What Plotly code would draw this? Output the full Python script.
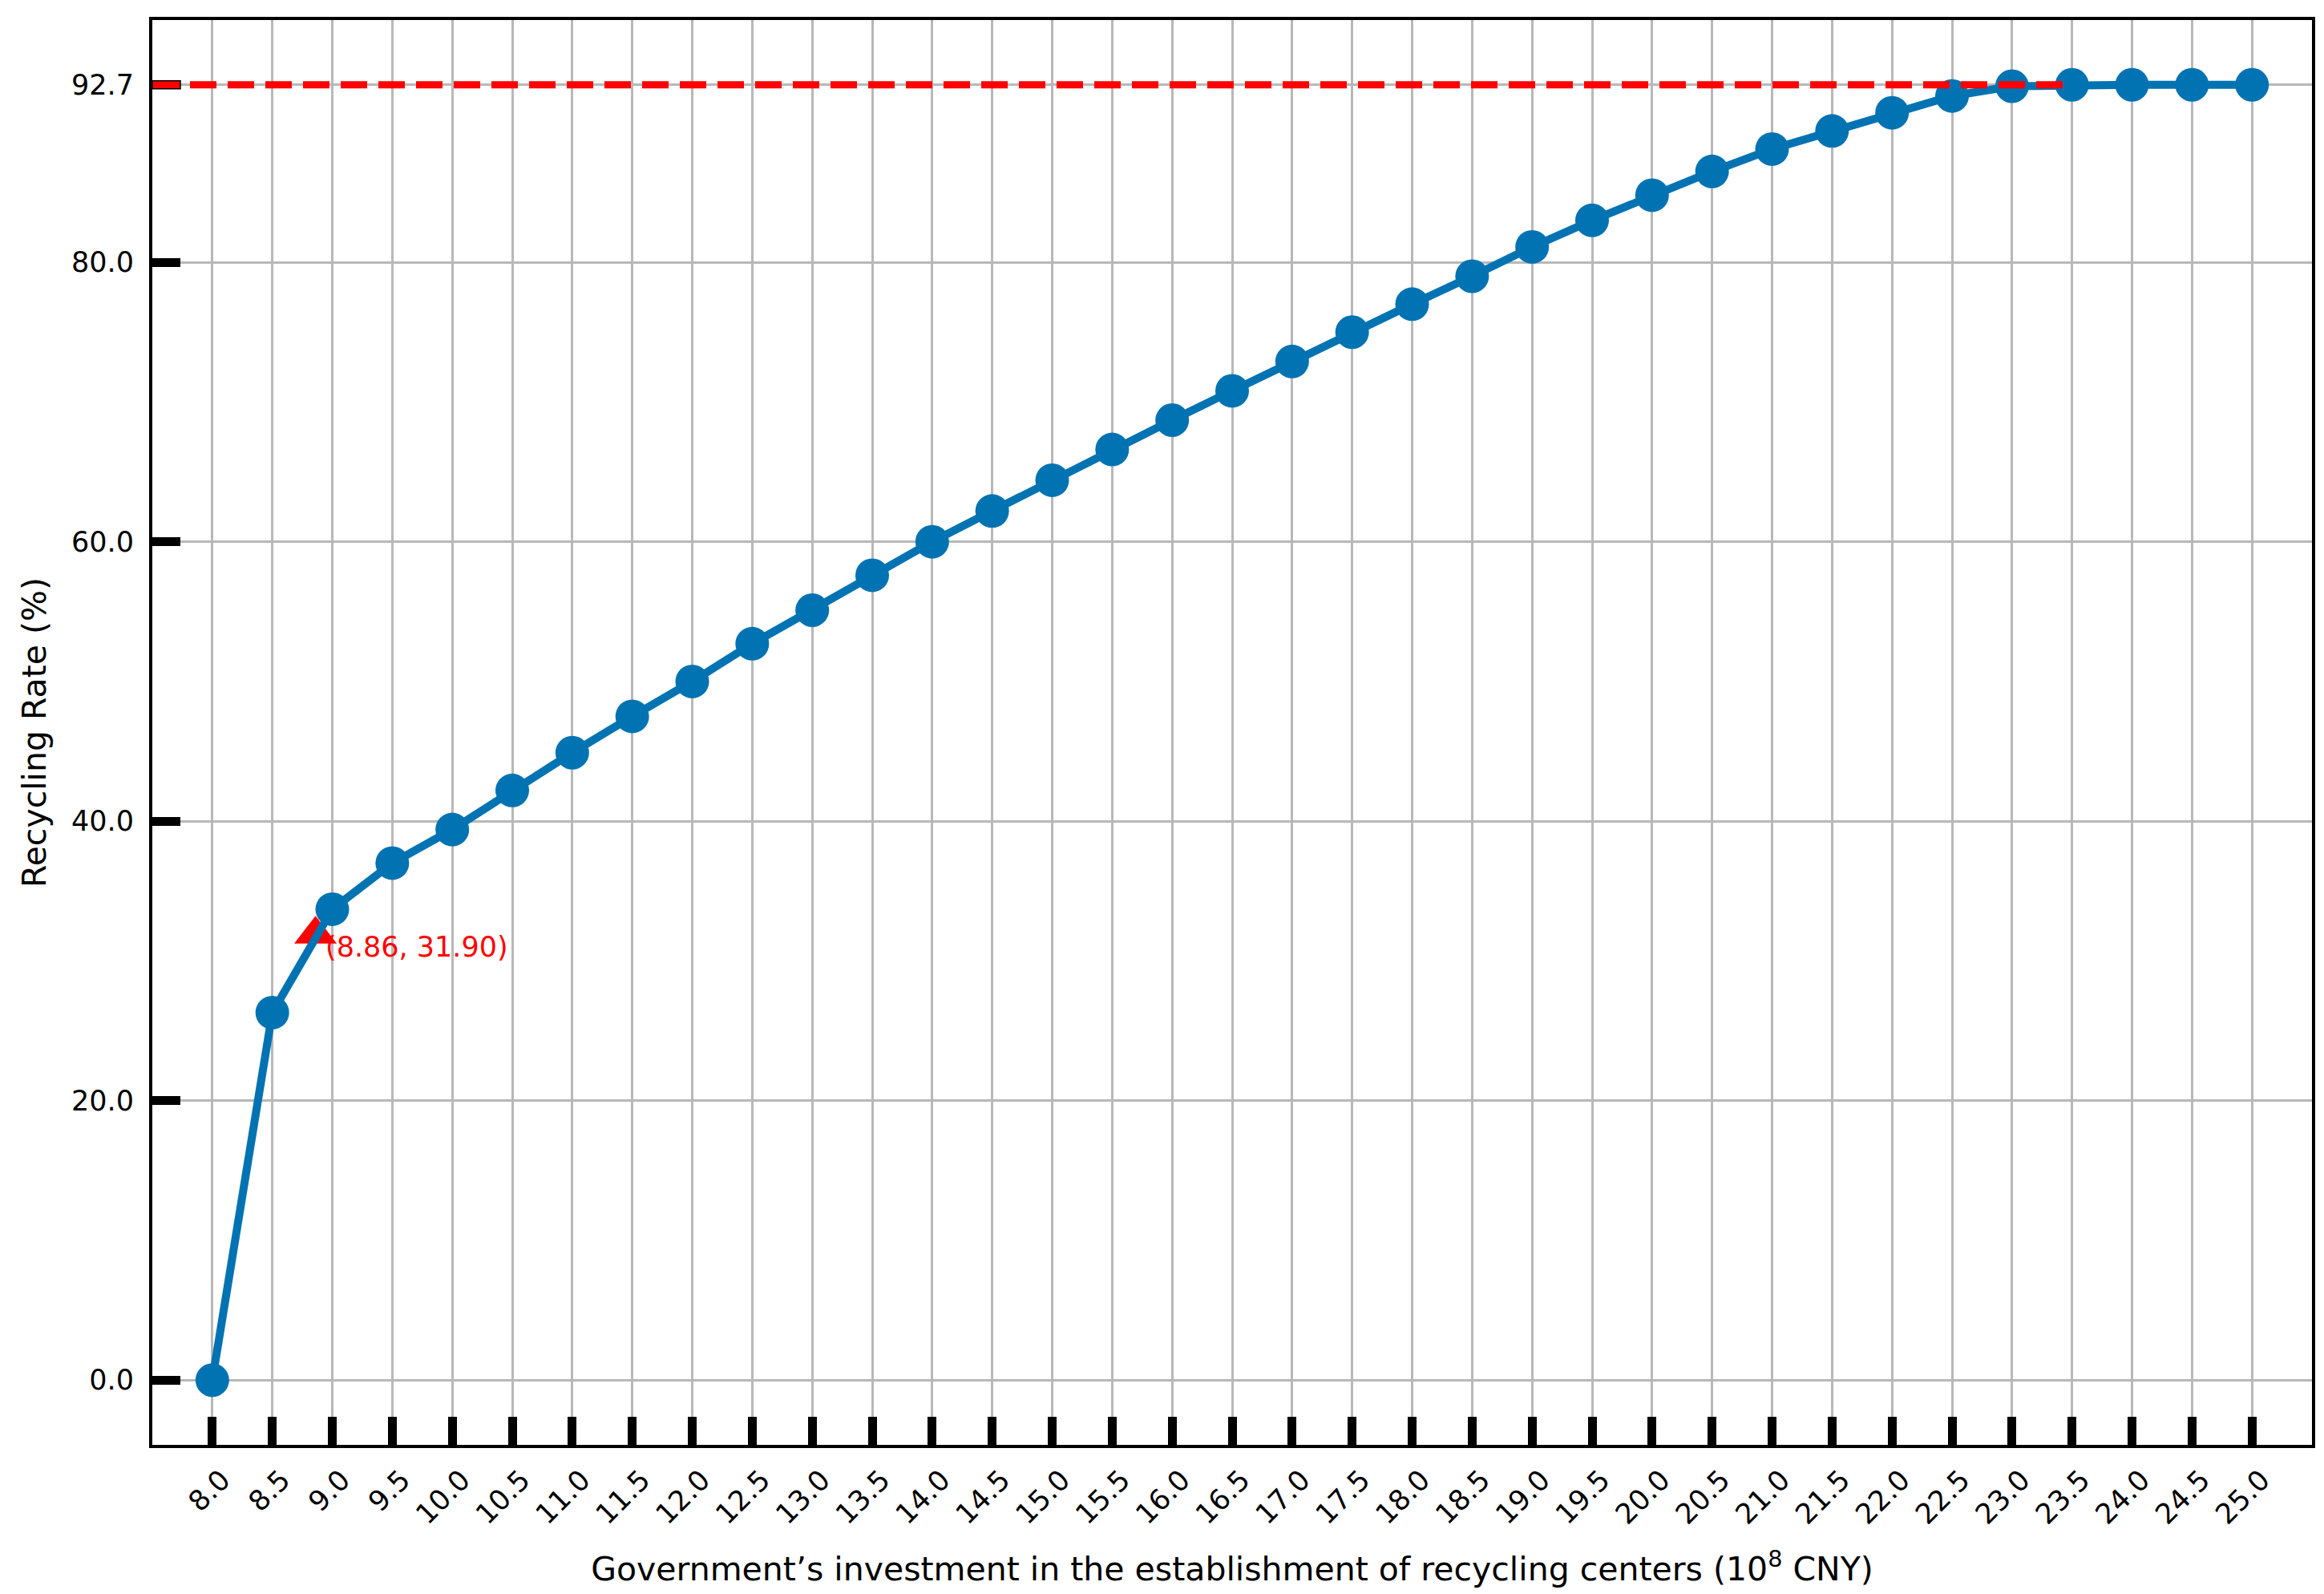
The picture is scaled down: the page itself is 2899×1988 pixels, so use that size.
import plotly.graph_objects as go

# ---- data ----
investment = [8.0, 8.5, 9.0, 9.5, 10.0, 10.5, 11.0, 11.5, 12.0, 12.5, 13.0, 13.5,
              14.0, 14.5, 15.0, 15.5, 16.0, 16.5, 17.0, 17.5, 18.0, 18.5, 19.0,
              19.5, 20.0, 20.5, 21.0, 21.5, 22.0, 22.5, 23.0, 23.5, 24.0, 24.5, 25.0]
recycling_rate = [0.0, 26.3, 33.7, 37.0, 39.4, 42.2, 44.9, 47.5, 50.0, 52.7, 55.1, 57.6,
                  60.0, 62.2, 64.4, 66.6, 68.7, 70.8, 72.9, 75.0, 77.0, 79.0, 81.1,
                  83.0, 84.8, 86.5, 88.1, 89.4, 90.7, 91.9, 92.6, 92.7, 92.7, 92.7, 92.7]
threshold_point_x = [8.86]
threshold_point_y = [31.90]
threshold_label = "(8.86, 31.90)"
max_rate = 92.7
max_rate_x_end = 23.5
x_tick_vals = investment
x_tick_text = [f"{v:.1f}" for v in investment]
y_tick_vals = [0.0, 20.0, 40.0, 60.0, 80.0, 92.7]
y_tick_text = ["0.0", "20.0", "40.0", "60.0", "80.0", "92.7"]
x_range = [7.5, 25.5]
y_range = [-4.635, 97.335]

FONT = "DejaVu Sans"
BLUE = "#0173b2"

fig = go.Figure()

# threshold triangle (below the line)
fig.add_trace(go.Scatter(
    x=threshold_point_x, y=threshold_point_y, mode="markers",
    marker=dict(symbol="triangle-up", size=46, color="red"),
    showlegend=False, hoverinfo="skip"))

# main curve
fig.add_trace(go.Scatter(
    x=investment, y=recycling_rate, mode="lines+markers",
    line=dict(color=BLUE, width=10),
    marker=dict(size=42, color=BLUE),
    showlegend=False))

# max rate dashed line
fig.add_trace(go.Scatter(
    x=[x_range[0], max_rate_x_end], y=[max_rate, max_rate], mode="lines",
    line=dict(color="red", width=9, dash="33px,14px"),
    showlegend=False, hoverinfo="skip", cliponaxis=False))

fig.add_annotation(
    x=threshold_point_x[0], y=threshold_point_y[0], text=threshold_label,
    showarrow=False, xanchor="left", yanchor="middle", xshift=10, yshift=-16,
    font=dict(family=FONT, size=35, color="red"))

# red tick for the max value
fig.add_shape(
    type="rect", xref="x", yref="y", xsizemode="pixel", ysizemode="pixel",
    xanchor=x_range[0], yanchor=max_rate, x0=0, x1=35, y0=-5, y1=5,
    fillcolor="red", line=dict(color="black", width=1.5), layer="above")

fig.update_layout(
    width=2899, height=1988,
    margin=dict(l=182, r=23, t=17, b=194),
    paper_bgcolor="white", plot_bgcolor="white",
    font=dict(family=FONT, size=34, color="black"),
)

fig.update_xaxes(
    range=x_range, tickmode="array", tickvals=x_tick_vals, ticktext=x_tick_text,
    tickangle=-45, ticks="inside", ticklen=35, tickwidth=11, tickcolor="black",
    ticklabelshift=12, ticklabelstandoff=5,
    showgrid=True, gridcolor="#b8b8b8", gridwidth=3, zeroline=False,
    showline=True, linecolor="black", linewidth=4, mirror=True,
    tickfont=dict(family=FONT, size=35),
    title=dict(text="Government’s investment in the establishment of recycling centers (10<sup>8</sup> CNY)",
               font=dict(family=FONT, size=41), standoff=36),
)
fig.update_yaxes(
    range=y_range, tickmode="array", tickvals=y_tick_vals, ticktext=y_tick_text,
    ticks="inside", ticklen=35, tickwidth=11, tickcolor="black",
    ticklabelstandoff=12,
    showgrid=True, gridcolor="#b8b8b8", gridwidth=3, zeroline=False,
    showline=True, linecolor="black", linewidth=4, mirror=True,
    tickfont=dict(family=FONT, size=35),
    title=dict(text="Recycling Rate (%)", font=dict(family=FONT, size=41), standoff=20),
)

fig.write_html("out.html")
